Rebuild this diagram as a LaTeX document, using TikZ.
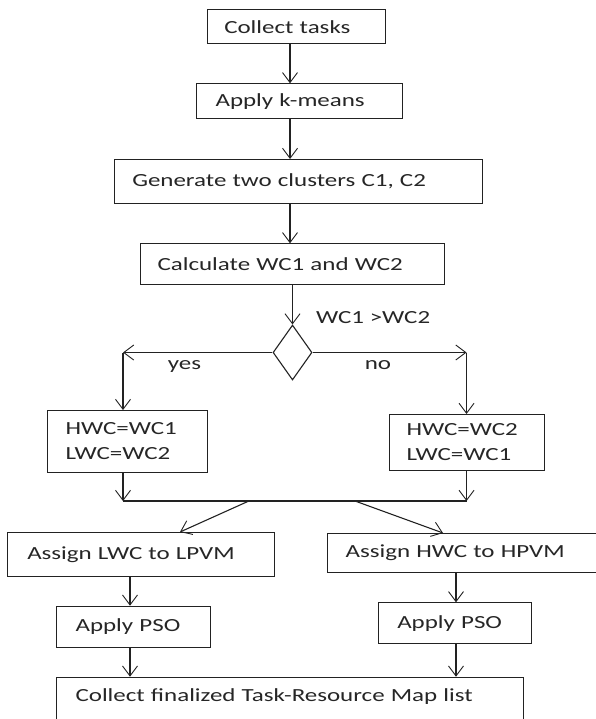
\documentclass[tikz,border=0pt]{standalone}
\usepackage{fontspec}
\setmainfont{Carlito}[FakeStretch=1.35]
\usetikzlibrary{arrows.meta,shapes.geometric,calc}
\definecolor{txt}{HTML}{262626}
\definecolor{lnc}{HTML}{222222}
\begin{document}
\begin{tikzpicture}[x=1pt,y=-1pt,
  every node/.style={text=txt, font=\fontsize{18.5}{25}\selectfont},
  box/.style={draw=lnc, line width=1.1pt, anchor=north west, align=left, inner ysep=0pt},
  arr/.style={draw=lnc, line width=1.1pt, -{Straight Barb[length=10pt,width=15pt,line width=0.9pt]}},
  plain/.style={draw=lnc, line width=1.1pt},
  lbl/.style={inner sep=0pt}]
\useasboundingbox (0,0) rectangle (595,719);
\fill[white] (0,0) rectangle (595,719);

% boxes
\node[box, minimum height=34pt, inner xsep=17pt, text width=144pt] (collect) at (206.7,9.3) {Collect tasks};
\node[box, minimum height=35pt, inner xsep=19.3pt, text width=167.4pt] (kmeans) at (195.7,83.3) {Apply k-means};
\node[box, minimum height=43.7pt, inner xsep=17.7pt, text width=332.6pt] (gen) at (114,159) {Generate two clusters C1, C2};
\node[box, minimum height=40.7pt, inner xsep=17pt, text width=270pt] (calc) at (140,243.3) {Calculate WC1 and WC2};
\node[draw=lnc, line width=1.1pt, diamond, minimum width=39pt, minimum height=55pt, inner sep=0pt] (dec) at (292.5,352.5) {};
\node[box, minimum height=61.7pt, inner xsep=18.3pt, text width=123.4pt] (hw1) at (46.7,410) {HWC=WC1\\LWC=WC2};
\node[box, minimum height=56pt, inner xsep=17pt, text width=121pt] (hw2) at (389,414) {HWC=WC2\\LWC=WC1};
\node[box, minimum height=44pt, inner xsep=19.4pt, text width=227.9pt] (lwc) at (7.3,532) {Assign LWC to LPVM};
\node[box, minimum height=39pt, inner xsep=18pt, text width=244pt] (hwc) at (327,533) {Assign HWC to HPVM};
\node[box, minimum height=41.6pt, inner xsep=19.3pt, text width=115.7pt] (pso1) at (55.7,605.7) {Apply PSO};
\node[box, minimum height=41pt, inner xsep=19pt, text width=115pt] (pso2) at (377.7,602.3) {Apply PSO};
\node[box, minimum height=60pt, inner xsep=19.3pt, text width=428.4pt] (final) at (55.7,676.7) {Collect finalized Task-Resource Map list\\~};

% labels
\node[lbl, anchor=base west] (cond) at (316,323) {WC1 >WC2};
\node[lbl, anchor=base] (yes) at (184.5,369) {yes};
\node[lbl, anchor=base] (no) at (378,369) {no};

% helper coordinates
\coordinate (sp) at (290,0);
\coordinate (yl) at (123,352.5);
\coordinate (nr) at (466.5,352.5);
\coordinate (ml) at (123,501);
\coordinate (mr) at (466.5,501);
\coordinate (d1) at (250,500.5);
\coordinate (d2) at (355,501);
\coordinate (x180) at (180,0);
\coordinate (x443) at (443,0);
\coordinate (xl) at (130,0);
\coordinate (xr) at (456,0);

% connectors
\draw[arr] (collect.south -| sp) -- (kmeans.north -| sp);
\draw[arr] (kmeans.south -| sp) -- (gen.north -| sp);
\draw[arr] (gen.south -| sp) -- (calc.north -| sp);
\draw[arr] (calc.south -| dec.north) -- (dec.north);
\draw[arr] (dec.west) -- (yl);
\draw[arr] (yl) -- (hw1.north -| yl);
\draw[arr] (dec.east) -- (nr);
\draw[arr] (nr) -- (hw2.north -| nr);
\draw[arr] (hw1.south -| ml) -- (ml);
\draw[arr] (hw2.south -| mr) -- (mr);
\draw[plain] (ml) -- (mr);
\draw[arr] (d1) -- (lwc.north -| x180);
\draw[arr] (d2) -- (hwc.north -| x443);
\draw[arr] (lwc.south -| xl) -- (pso1.north -| xl);
\draw[arr] (pso1.south -| xl) -- (final.north -| xl);
\draw[arr] (hwc.south -| xr) -- (pso2.north -| xr);
\draw[arr] (pso2.south -| xr) -- (final.north -| xr);
\end{tikzpicture}
\end{document}
